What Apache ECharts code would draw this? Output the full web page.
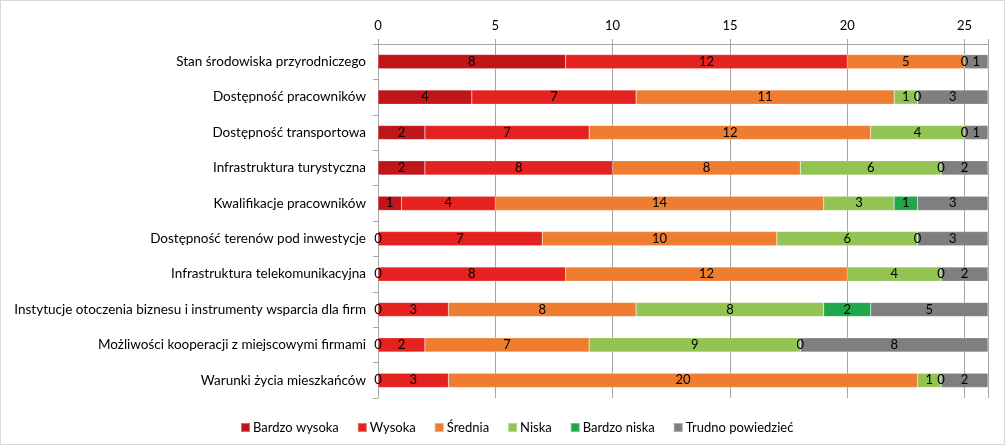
<!DOCTYPE html>
<html>
<head>
<meta charset="utf-8">
<script src="https://cdn.jsdelivr.net/npm/echarts@6/dist/echarts.min.js"></script>
<style>
  html, body { margin: 0; padding: 0; background: #fff; }
  .con { width: 1003px; height: 443px; border: 1px solid #d9d9d9; }
  .echart { width: 1003px; height: 443px; }
</style>
</head>
<body>
<div class="con"><div class="echart" id="main"></div></div>
<script>
var categories = [
  "Stan środowiska przyrodniczego",
  "Dostępność pracowników",
  "Dostępność transportowa",
  "Infrastruktura turystyczna",
  "Kwalifikacje pracowników",
  "Dostępność terenów pod inwestycje",
  "Infrastruktura telekomunikacyjna",
  "Instytucje otoczenia biznesu i instrumenty wsparcia dla firm",
  "Możliwości kooperacji z miejscowymi firmami",
  "Warunki życia mieszkańców"
];
var seriesNames = ["Bardzo wysoka", "Wysoka", "Średnia", "Niska", "Bardzo niska", "Trudno powiedzieć"];
var bardzoWysoka = [8, 4, 2, 2, 1, 0, 0, 0, 0, 0];
var wysoka = [12, 7, 7, 8, 4, 7, 8, 3, 2, 3];
var srednia = [5, 11, 12, 8, 14, 10, 12, 8, 7, 20];
var niska = ["-", 1, 4, 6, 3, 6, 4, 8, 9, 1];
var bardzoNiska = [0, 0, 0, 0, 1, 0, 0, 2, 0, 0];
var trudno = [1, 3, 1, 2, 3, 3, 2, 5, 8, 2];
var colors = ["#C0161A", "#E42320", "#EE7D31", "#92C353", "#22A64A", "#7F7F7F"];

var allData = [bardzoWysoka, wysoka, srednia, niska, bardzoNiska, trudno];

var myEcharts = echarts.init(document.getElementById("main"));
var series = seriesNames.map(function (name, i) {
  return {
    name: name,
    type: "bar",
    stack: "all",
    barCategoryGap: "60%",
    data: allData[i],
    itemStyle: { color: colors[i], borderColor: "rgba(255,255,255,0.35)", borderWidth: 0.5 },
    label: {
      show: true,
      position: "inside",
      color: "#000",
      fontSize: 13,
      fontFamily: "Lato"
    }
  };
});

myEcharts.setOption({
  animation: false,
  textStyle: { fontFamily: "Lato" },
  grid: { left: 377, right: 16, top: 43, bottom: 46 },
  legend: {
    data: seriesNames,
    bottom: 5,
    left: 234,
    itemWidth: 9,
    itemHeight: 9,
    itemGap: 18,
    icon: "rect",
    textStyle: { fontSize: 13, color: "#000", fontFamily: "Lato", padding: [0, 0, 0, -2] }
  },
  xAxis: {
    type: "value",
    position: "top",
    min: 0,
    max: 26,
    interval: 5,
    axisLine: { show: true, lineStyle: { color: "#A6A6A6" } },
    axisTick: { show: true, length: 5, lineStyle: { color: "#A6A6A6" } },
    splitLine: { show: true, lineStyle: { color: "#A6A6A6" } },
    axisLabel: {
      color: "#000",
      fontSize: 13,
      margin: 12,
      formatter: function (v) { return v % 5 === 0 ? v : ""; }
    }
  },
  yAxis: {
    type: "category",
    inverse: true,
    data: categories,
    axisLine: { show: true, lineStyle: { color: "#A6A6A6" } },
    axisTick: { show: true, length: 5, lineStyle: { color: "#A6A6A6" } },
    axisLabel: { color: "#000", fontSize: 13.5, margin: 12 }
  },
  series: series
});
window.onresize = myEcharts.resize;
</script>
</body>
</html>
